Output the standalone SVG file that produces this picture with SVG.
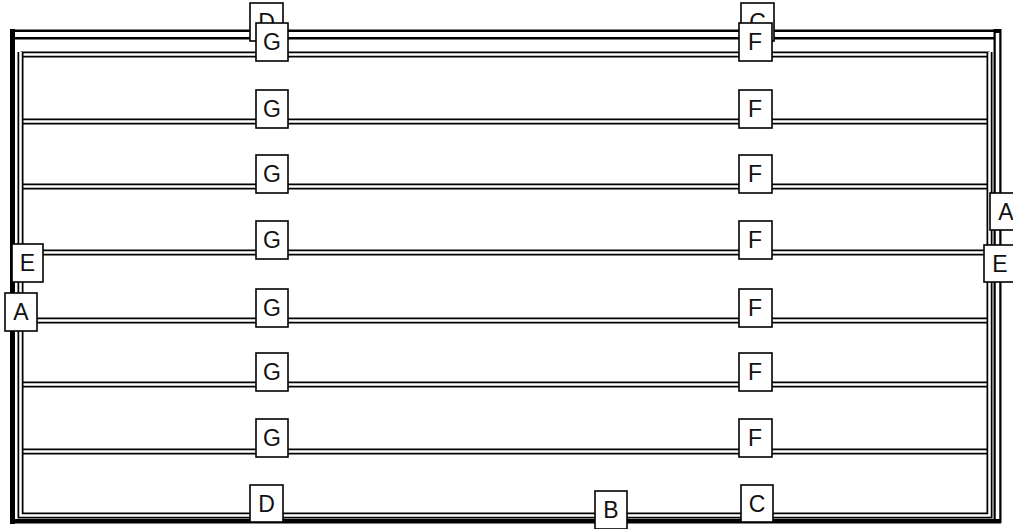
<svg xmlns="http://www.w3.org/2000/svg" width="1013" height="529" viewBox="0 0 1013 529">
<style>
.ob{fill:none;stroke:#000;stroke-width:6}
.iw{fill:none;stroke:#fff;stroke-width:2.5}
.n rect{fill:#fff;stroke:#000;stroke-width:1.6}
.n text{font-family:"Liberation Sans",Arial,sans-serif;font-size:23px;fill:#111;text-anchor:middle}
</style>
<rect width="1013" height="529" fill="#fff"/>
<g id="connectors">
  <!-- outer top double line -->
  <path d="M12 34.5H997" fill="none" stroke="#000" stroke-width="10"/>
  <path d="M12 34.5H995" fill="none" stroke="#fff" stroke-width="5"/>
  <!-- outer right -->
  <path d="M997.5 29V523" fill="none" stroke="#000" stroke-width="8"/>
  <path d="M997.5 33V521" fill="none" stroke="#fff" stroke-width="3.5"/>
  <!-- outer left thick + bottom thick -->
  <rect x="10" y="29" width="5" height="495" fill="#000"/>
  <rect x="10" y="519" width="991" height="4.5" fill="#000"/>
  <!-- rows -->
  <path class="ob" d="M20.5 54.5H989.5M20.5 121.5H989.5M20.5 186.5H989.5M20.5 252.5H989.5M20.5 320.5H989.5M20.5 384.5H989.5M20.5 451.5H989.5"/>
  <path class="iw" d="M20.5 54.5H989.5M20.5 121.5H989.5M20.5 186.5H989.5M20.5 252.5H989.5M20.5 320.5H989.5M20.5 384.5H989.5M20.5 451.5H989.5"/>
  <!-- inner frame -->
  <path class="ob" d="M20.5 52V515.5H989.5V52"/>
  <path class="iw" d="M20.5 52V515.5H989.5V52"/>
</g>
<g id="node-D-top" class="n"><rect x="250" y="3" width="33" height="38"/><text x="266.5" y="30">D</text></g>
<g id="node-C-top" class="n"><rect x="741" y="3" width="33" height="38"/><text x="757.5" y="30">C</text></g>
<g id="node-G1" class="n"><rect x="256" y="23" width="32" height="38"/><text x="272" y="50">G</text></g>
<g id="node-G2" class="n"><rect x="256" y="90" width="32" height="38"/><text x="272" y="117">G</text></g>
<g id="node-G3" class="n"><rect x="256" y="155" width="32" height="38"/><text x="272" y="182">G</text></g>
<g id="node-G4" class="n"><rect x="256" y="221" width="32" height="38"/><text x="272" y="248">G</text></g>
<g id="node-G5" class="n"><rect x="256" y="289" width="32" height="38"/><text x="272" y="316">G</text></g>
<g id="node-G6" class="n"><rect x="256" y="353" width="32" height="38"/><text x="272" y="380">G</text></g>
<g id="node-G7" class="n"><rect x="256" y="419" width="32" height="38"/><text x="272" y="446">G</text></g>
<g id="node-F1" class="n"><rect x="739" y="23" width="33" height="38"/><text x="755" y="50">F</text></g>
<g id="node-F2" class="n"><rect x="739" y="90" width="33" height="38"/><text x="755" y="117">F</text></g>
<g id="node-F3" class="n"><rect x="739" y="155" width="33" height="38"/><text x="755" y="182">F</text></g>
<g id="node-F4" class="n"><rect x="739" y="221" width="33" height="38"/><text x="755" y="248">F</text></g>
<g id="node-F5" class="n"><rect x="739" y="289" width="33" height="38"/><text x="755" y="316">F</text></g>
<g id="node-F6" class="n"><rect x="739" y="353" width="33" height="38"/><text x="755" y="380">F</text></g>
<g id="node-F7" class="n"><rect x="739" y="419" width="33" height="38"/><text x="755" y="446">F</text></g>
<g id="node-E-left" class="n"><rect x="12" y="244" width="31" height="38"/><text x="27.5" y="271">E</text></g>
<g id="node-A-left" class="n"><rect x="5" y="293" width="32" height="38"/><text x="21" y="320">A</text></g>
<g id="node-A-right" class="n"><rect x="990" y="193" width="34" height="37"/><text x="1006" y="220">A</text></g>
<g id="node-E-right" class="n"><rect x="984" y="245" width="34" height="37"/><text x="1000" y="272">E</text></g>
<g id="node-D-bottom" class="n"><rect x="250" y="485" width="33" height="37"/><text x="266.5" y="512">D</text></g>
<g id="node-B" class="n"><rect x="595" y="491" width="32" height="38"/><text x="611" y="518">B</text></g>
<g id="node-C-bottom" class="n"><rect x="741" y="485" width="32" height="37"/><text x="757" y="512">C</text></g>
</svg>
